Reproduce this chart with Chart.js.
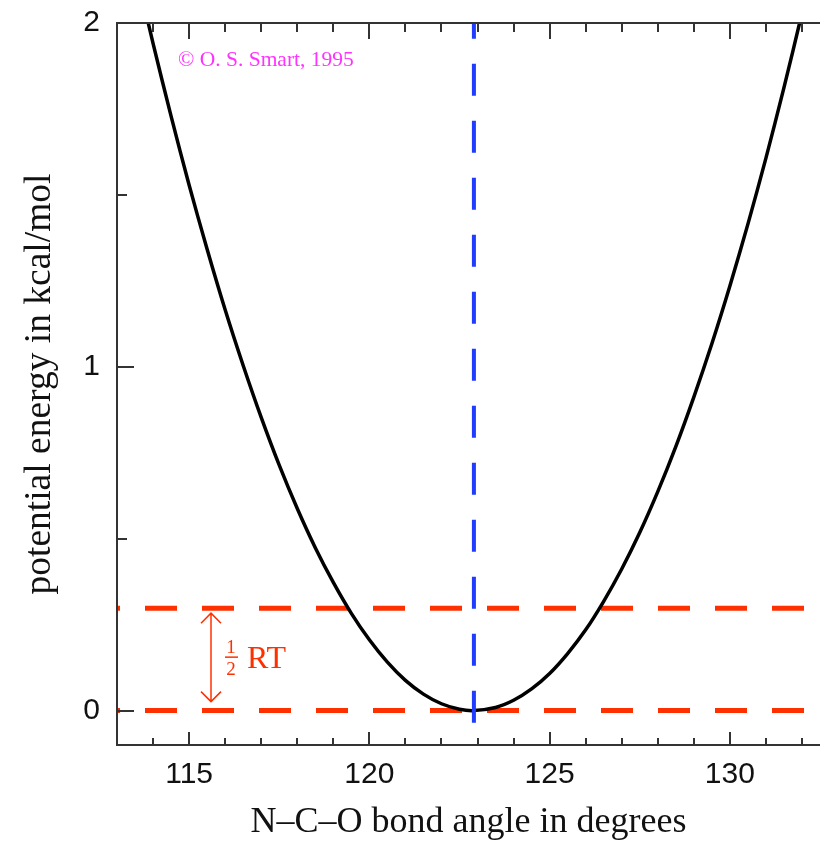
<!DOCTYPE html>
<html>
<head>
<meta charset="utf-8">
<script src="https://cdn.jsdelivr.net/npm/chart.js@4"></script>
<style>
  html, body { margin: 0; padding: 0; background: #fff; overflow: hidden; }
  canvas { display: block; }
</style>
</head>
<body>
<canvas id="energyChart" width="820" height="841"></canvas>
<script>
// N-C-O bond angle (degrees) and potential energy (kcal/mol)
var angles = [113, 113.5, 114, 114.5, 115, 115.5, 116, 116.5, 117, 117.5,
              118, 118.5, 119, 119.5, 120, 120.5, 121, 121.5, 122, 122.5,
              122.9, 123.5, 124, 124.5, 125, 125.5, 126, 126.5, 127, 127.5,
              128, 128.5, 129, 129.5, 130, 130.5, 131, 131.5, 132, 132.5];
var energies = [2.40, 2.165, 1.941, 1.729, 1.529, 1.342, 1.166, 1.004, 0.853, 0.714,
                0.588, 0.474, 0.373, 0.283, 0.206, 0.141, 0.088, 0.048, 0.020, 0.004,
                0.000, 0.009, 0.030, 0.063, 0.108, 0.166, 0.235, 0.318, 0.412, 0.518,
                0.637, 0.768, 0.912, 1.067, 1.235, 1.415, 1.607, 1.812, 2.029, 2.258];

var minAngle = 122.9;   // blue dashed line
var halfRT = 0.298;     // upper red dashed line
var arrowAngle = 115.6; // where the 1/2 RT arrow sits

var xTickValues = [115, 120, 125, 130];
var xMinorTicks = [114, 116, 117, 118, 119, 121, 122, 123, 124, 126, 127, 128, 129, 131, 132];
var yTickValues = [0, 1, 2];
var yMinorTicks = [0.5, 1.5];

var xMin = 113, xMax = 132.5;
var yMin = -0.1, yMax = 2;

var red = '#ff3000';
var blue = '#1f3cff';
var magenta = '#ff33ff';
var axisColor = '#333';

var curvePoints = angles.map(function (a, i) { return { x: a, y: energies[i] }; });

// frame, inward tick marks, 1/2 RT arrow and the copyright line
var decorations = {
  id: 'decorations',
  afterDatasetsDraw: function (chart) {
    var ctx = chart.ctx;
    var area = chart.chartArea;
    var xs = chart.scales.x;
    var ys = chart.scales.y;

    ctx.save();
    ctx.strokeStyle = axisColor;
    ctx.lineWidth = 2;
    ctx.beginPath();
    ctx.moveTo(area.right + 5, area.top);
    ctx.lineTo(area.left, area.top);
    ctx.lineTo(area.left, area.bottom);
    ctx.lineTo(area.right + 5, area.bottom);
    ctx.stroke();

    ctx.beginPath();
    xTickValues.forEach(function (v) {
      var px = Math.round(xs.getPixelForValue(v));
      ctx.moveTo(px, area.bottom); ctx.lineTo(px, area.bottom - 13);
      ctx.moveTo(px, area.top); ctx.lineTo(px, area.top + 16);
    });
    xMinorTicks.forEach(function (v) {
      var px = Math.round(xs.getPixelForValue(v));
      ctx.moveTo(px, area.bottom); ctx.lineTo(px, area.bottom - 7);
      ctx.moveTo(px, area.top); ctx.lineTo(px, area.top + 9);
    });
    yTickValues.forEach(function (v) {
      var py = Math.round(ys.getPixelForValue(v));
      ctx.moveTo(area.left, py); ctx.lineTo(area.left + 17, py);
    });
    yMinorTicks.forEach(function (v) {
      var py = Math.round(ys.getPixelForValue(v));
      ctx.moveTo(area.left, py); ctx.lineTo(area.left + 10, py);
    });
    ctx.stroke();

    // double arrow between the two red lines
    var ax = Math.round(xs.getPixelForValue(arrowAngle));
    var yTop = ys.getPixelForValue(halfRT) + 5;
    var yBot = ys.getPixelForValue(0) - 9;
    ctx.strokeStyle = red;
    ctx.lineWidth = 1.5;
    ctx.beginPath();
    ctx.moveTo(ax, yTop); ctx.lineTo(ax, yBot);
    ctx.moveTo(ax - 10, yTop + 10); ctx.lineTo(ax, yTop); ctx.lineTo(ax + 10, yTop + 10);
    ctx.moveTo(ax - 10, yBot - 10); ctx.lineTo(ax, yBot); ctx.lineTo(ax + 10, yBot - 10);
    ctx.stroke();

    var midY = (yTop + yBot) / 2;
    ctx.fillStyle = red;
    ctx.textAlign = 'center';
    ctx.textBaseline = 'alphabetic';
    ctx.font = '19px "Liberation Serif"';
    ctx.fillText('1', ax + 20, midY - 4);
    ctx.fillText('2', ax + 20, midY + 18);
    ctx.fillRect(ax + 14, midY - 1, 13, 1.5);
    ctx.textAlign = 'left';
    ctx.font = '32px "Liberation Serif"';
    ctx.fillText('RT', ax + 36, midY + 11);

    ctx.fillStyle = magenta;
    ctx.font = '21.5px "Liberation Serif"';
    ctx.textBaseline = 'middle';
    ctx.fillText('\u00a9 O. S. Smart, 1995', area.left + 61, area.top + 37);
    ctx.restore();
  }
};

var chart = new Chart(document.getElementById('energyChart'), {
  type: 'line',
  data: {
    datasets: [
      {
        data: [{ x: minAngle, y: -0.035 }, { x: minAngle, y: 2.05 }],
        borderColor: blue,
        borderWidth: 4,
        borderDash: [32, 25],
        pointRadius: 0,
        order: 0
      },
      {
        data: curvePoints,
        borderColor: '#000',
        borderWidth: 3.5,
        tension: 0.3,
        pointRadius: 0,
        order: 1
      },
      {
        data: [{ x: xMin, y: halfRT }, { x: xMax, y: halfRT }],
        borderColor: red,
        borderWidth: 5,
        borderDash: [32, 25],
        borderDashOffset: 29,
        pointRadius: 0,
        order: 2
      },
      {
        data: [{ x: xMin, y: 0 }, { x: xMax, y: 0 }],
        borderColor: red,
        borderWidth: 5,
        borderDash: [32, 25],
        borderDashOffset: 29,
        pointRadius: 0,
        order: 2
      }
    ]
  },
  options: {
    responsive: false,
    animation: false,
    events: [],
    layout: { padding: { top: 23, right: 0, left: 0, bottom: 0 } },
    plugins: {
      legend: { display: false },
      tooltip: { enabled: false }
    },
    scales: {
      x: {
        type: 'linear',
        min: xMin,
        max: xMax,
        grid: { display: false, drawTicks: false },
        border: { display: false },
        afterBuildTicks: function (scale) {
          scale.ticks = xTickValues.map(function (v) { return { value: v }; });
        },
        afterFit: function (scale) {
          scale.height = 96;
          scale.paddingLeft = 0;
          scale.paddingRight = 0;
        },
        ticks: {
          padding: 12,
          maxRotation: 0,
          color: '#111',
          font: { family: '"Liberation Sans"', size: 30 }
        },
        title: {
          display: true,
          text: 'N\u2013C\u2013O bond angle in degrees',
          color: '#111',
          padding: { top: 0, bottom: 0 },
          font: { family: '"Liberation Serif"', size: 36, lineHeight: 1 }
        }
      },
      y: {
        type: 'linear',
        min: yMin,
        max: yMax,
        grid: { display: false, drawTicks: false },
        border: { display: false },
        afterBuildTicks: function (scale) {
          scale.ticks = yTickValues.map(function (v) { return { value: v }; });
        },
        afterFit: function (scale) {
          scale.width = 117;
          scale.paddingTop = 0;
          scale.paddingBottom = 0;
        },
        ticks: {
          padding: 17,
          color: '#111',
          font: { family: '"Liberation Sans"', size: 30 }
        },
        title: {
          display: true,
          text: 'potential energy in kcal/mol',
          color: '#111',
          padding: { top: 21, bottom: 0 },
          font: { family: '"Liberation Serif"', size: 37.5, lineHeight: 1 }
        }
      }
    }
  },
  plugins: [decorations]
});
</script>
</body>
</html>
